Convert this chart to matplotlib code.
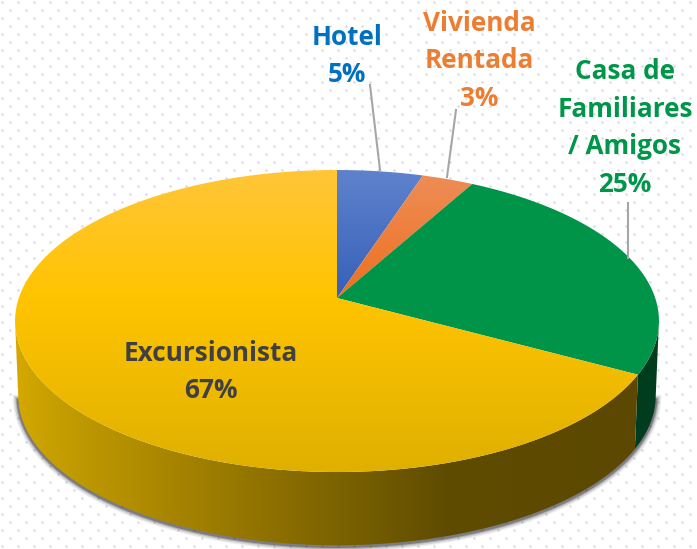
import numpy as np
import matplotlib
matplotlib.use("Agg")
import matplotlib.pyplot as plt
from matplotlib.colors import to_rgb
from matplotlib.patches import Polygon

categories = ["Hotel", "Vivienda\nRentada", "Casa de\nFamiliares\n/ Amigos", "Excursionista"]
values = [5, 3, 25, 67]
label_colors = ["#0070C0", "#ED7D31", "#00964A", "#404040"]

# pie is drawn in pixel coords, perspective squeezes the far half
cx, cy = 337, 298
a, b, k = 318.2, 147.5, 0.1524
depth, shrink = 75, 0.99


def rim(t1, t2, s=1.0, dy=0, n=200):
    th = np.radians(np.linspace(t1, t2, n))
    u, v = np.sin(th), np.cos(th)
    w = 1 + k * v
    return np.column_stack((cx + s * a * u / w, cy + dy - s * b * v / w))


def gradient(ax, poly, stops, horizontal=False, extent=(0, 697, 549, 0)):
    # stops = (pixel position, colour)
    pos = [p for p, c in stops]
    rgb = np.array([to_rgb(c) for p, c in stops])
    t = np.arange(0, 697 if horizontal else 549)
    img = np.column_stack([np.interp(t, pos, rgb[:, i]) for i in range(3)])
    img = img[None, :, :] if horizontal else img[:, None, :]
    patch = Polygon(poly, closed=True, transform=ax.transData, fc="none", ec="none")
    ax.add_patch(patch)
    im = ax.imshow(img, extent=extent, aspect="auto", zorder=patch.get_zorder() + 1)
    im.set_clip_path(patch)
    return im


fig = plt.figure(figsize=(6.97, 5.49), dpi=100)
ax = fig.add_axes([0, 0, 1, 1])
ax.axis("off")

# dotted background
for row, y in enumerate(np.arange(2, 549, 8)):
    xs = np.arange(2 if row % 2 == 0 else 10, 697, 16)
    ax.scatter(xs, np.full(xs.shape, y), s=3, color="#D5D7E2", linewidths=0, zorder=0)

# soft shadow under the pie, only along the front
low = rim(100, 260, shrink, depth + 1)
for lw, al in [(8, 0.08), (6, 0.14), (4, 0.22), (2.5, 0.4)]:
    ax.plot(low[:, 0], low[:, 1], color="#303038", lw=lw, alpha=al, zorder=1)

cum = np.cumsum([0] + values) * 3.6

# angle where the rim is vertical on screen, the wall stops there
t_right = np.degrees(np.arccos(-k))
t_left = 360 - t_right

# side walls
side = np.vstack((rim(t_right, cum[3]), rim(t_right, cum[3], shrink, depth)[::-1]))
ax.add_patch(Polygon(side, closed=True, fc="#003D1E", ec="none", zorder=2))
side = np.vstack((rim(cum[3], t_left), rim(cum[3], t_left, shrink, depth)[::-1]))
gradient(ax, side, [(18, "#D4A800"), (45, "#C8A000"), (223, "#9A7A00"),
                    (446, "#5F4C00"), (640, "#5C4800")], horizontal=True).set_zorder(2)

# top faces
top_stops = [
    [(170, "#5F82CC"), (298, "#3560B8")],
    [(170, "#EE8E58"), (298, "#ED7020")],
    [(170, "#009448"), (549, "#009448")],
    [(170, "#FFC638"), (298, "#FFC400"), (472, "#DFB000")],
]
for i in range(len(values)):
    poly = np.vstack(([cx, cy], rim(cum[i], cum[i + 1])))
    gradient(ax, poly, top_stops[i]).set_zorder(3)

# leader lines
ax.plot([370, 380], [85, 170], color="#A6A6A6", lw=1.5, zorder=4)
ax.plot([456, 447], [110, 177], color="#A6A6A6", lw=1.5, zorder=4)
ax.plot([628, 628], [203, 258], color="#A6A6A6", lw=1.5, zorder=4)

# labels
label_pos = [(347, 56), (479, 61), (625, 128), (211, 372)]
for name, val, col, (x, y) in zip(categories, values, label_colors, label_pos):
    ax.text(x, y, f"{name}\n{val}%", color=col, ha="center", va="center",
            family="Open Sans", fontweight="bold", fontsize=18.8,
            linespacing=1.52, zorder=5)

ax.set_xlim(0, 697)
ax.set_ylim(549, 0)
fig.savefig("out.png", dpi=100, facecolor="white")
